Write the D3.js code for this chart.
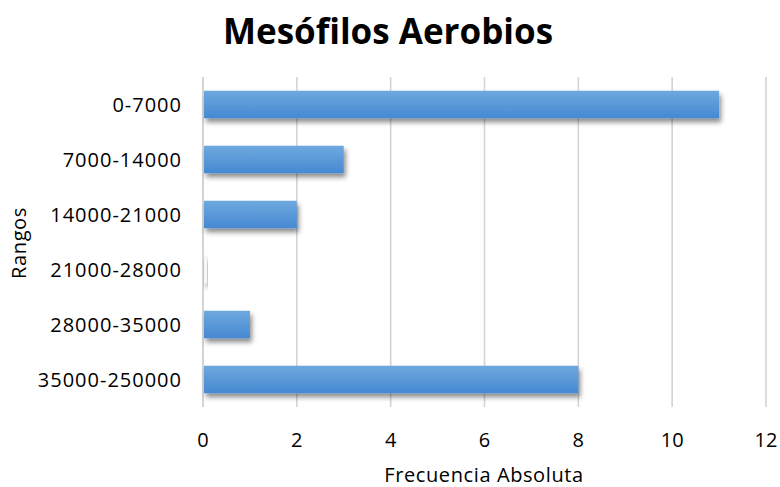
<!DOCTYPE html>
<html lang="es">
<head>
<meta charset="utf-8">
<title>Mesófilos Aerobios</title>
<script src="https://cdnjs.cloudflare.com/ajax/libs/d3/7.7.0/d3.min.js"></script>
<style>
  body { margin: 0; background: #fff; }
  text { font-family: "Open Sans", "Noto Sans", sans-serif; fill: #000; }
</style>
</head>
<body>
<div id="chart"></div>
<script>
const categories = ['0-7000', '7000-14000', '14000-21000', '21000-28000', '28000-35000', '35000-250000'];
const values = [11, 3, 2, 0, 1, 8];
const xTicks = [0, 2, 4, 6, 8, 10, 12];

const w = 780, h = 487;
const margin = {top: 77, right: 14, bottom: 80, left: 203};

const svg = d3.select('#chart').append('svg')
  .attr('width', w)
  .attr('height', h);

const defs = svg.append('defs');
const grad = defs.append('linearGradient')
  .attr('id', 'barGrad')
  .attr('x1', 0).attr('y1', 0).attr('x2', 0).attr('y2', 1);
grad.append('stop').attr('offset', '0%').attr('stop-color', '#6ea8de');
grad.append('stop').attr('offset', '100%').attr('stop-color', '#4689d2');

const shadow = defs.append('filter').attr('id', 'shadow')
  .attr('x', '-10%').attr('y', '-30%').attr('width', '130%').attr('height', '180%');
shadow.append('feDropShadow')
  .attr('dx', 2).attr('dy', 4).attr('stdDeviation', 2.5)
  .attr('flood-color', '#000').attr('flood-opacity', 0.45);

const x = d3.scaleLinear().domain([0, 12]).range([margin.left, w - margin.right]);
const y = d3.scaleBand().domain(categories).range([margin.top, h - margin.bottom]).paddingInner(0.5).paddingOuter(0.25);

// gridlines
svg.append('g').selectAll('line')
  .data(xTicks)
  .enter()
  .append('line')
    .attr('x1', d => x(d)).attr('x2', d => x(d))
    .attr('y1', margin.top).attr('y2', h - margin.bottom)
    .attr('stroke', '#d4d4d4')
    .attr('stroke-width', d => d === 0 ? 2 : 1.6);

// bars
svg.append('g').selectAll('rect')
  .data(values)
  .enter()
  .append('rect')
    .attr('x', x(0) + 1)
    .attr('y', (d, i) => y(categories[i]))
    .attr('width', d => Math.max(x(d) - x(0) - 1, d === 0 ? 3 : 0))
    .attr('height', y.bandwidth())
    .attr('fill', d => d === 0 ? '#f6f6f6' : 'url(#barGrad)')
    .attr('filter', 'url(#shadow)');

// category labels
svg.append('g').selectAll('text')
  .data(categories)
  .enter()
  .append('text')
    .attr('x', margin.left - 21)
    .attr('y', d => y(d) + y.bandwidth() / 2)
    .attr('dy', '0.36em')
    .attr('text-anchor', 'end')
    .attr('font-size', 20)
    .attr('letter-spacing', 1)
    .text(d => d);

// x tick labels
svg.append('g').selectAll('text')
  .data(xTicks)
  .enter()
  .append('text')
    .attr('x', d => x(d))
    .attr('y', 447)
    .attr('text-anchor', 'middle')
    .attr('font-size', 20)
    .text(d => d);

// axis titles
svg.append('text')
  .attr('x', 484).attr('y', 482)
  .attr('text-anchor', 'middle')
  .attr('font-size', 20)
  .attr('letter-spacing', 0.6)
  .text('Frecuencia Absoluta');

svg.append('text')
  .attr('transform', 'translate(26,243) rotate(-90)')
  .attr('text-anchor', 'middle')
  .attr('font-size', 20)
  .attr('letter-spacing', 0.6)
  .text('Rangos');

// title
svg.append('text')
  .attr('x', 388).attr('y', 44)
  .attr('text-anchor', 'middle')
  .attr('font-size', 35)
  .attr('font-weight', 'bold')
  .text('Mesófilos Aerobios');
</script>
</body>
</html>
